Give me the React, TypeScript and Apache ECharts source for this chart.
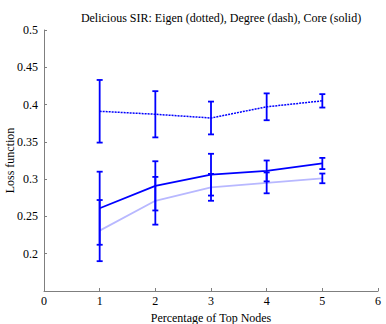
import React, { useEffect, useRef } from "react";
import * as echarts from "echarts";

const xValues = [1, 2, 3, 4, 5];
const eigenMean = [0.391, 0.387, 0.382, 0.397, 0.405];
const eigenErr = [0.042, 0.031, 0.022, 0.018, 0.009];
const coreMean = [0.261, 0.291, 0.306, 0.311, 0.321];
const coreErr = [0.049, 0.033, 0.028, 0.014, 0.0075];
const degreeMean = [0.231, 0.271, 0.289, 0.295, 0.301];
const degreeErr = [0.041, 0.032, 0.018, 0.014, 0.0065];

const titleText = "Delicious SIR: Eigen (dotted), Degree (dash), Core (solid)";
const xName = "Percentage of Top Nodes";
const yName = "Loss function";

const BLUE = "#0000ff";
const FAINT = "#b8b8ff";
const FONT = "Liberation Serif, Times New Roman, serif";

function errData(mean: number[], err: number[]) {
  return xValues.map((x, i) => [x, mean[i] - err[i], mean[i] + err[i]]);
}

function errorBarSeries(mean: number[], err: number[], z: number) {
  return {
    type: "custom",
    z,
    data: errData(mean, err),
    renderItem: (params: any, api: any) => {
      const x = api.value(0);
      const lo = api.coord([x, api.value(1)]);
      const hi = api.coord([x, api.value(2)]);
      const hw = 3;
      const style = { stroke: BLUE, lineWidth: 1.8 };
      return {
        type: "group",
        children: [
          { type: "line", shape: { x1: lo[0], y1: lo[1], x2: hi[0], y2: hi[1] }, style },
          { type: "line", shape: { x1: lo[0] - hw, y1: lo[1], x2: lo[0] + hw, y2: lo[1] }, style },
          { type: "line", shape: { x1: hi[0] - hw, y1: hi[1], x2: hi[0] + hw, y2: hi[1] }, style },
        ],
      };
    },
  };
}

export default function App() {
  const ref = useRef<HTMLDivElement>(null);
  useEffect(() => {
    if (!ref.current) return;
    const chart = echarts.init(ref.current, null, { renderer: "svg" });
    chart.setOption({
      animation: false,
      backgroundColor: "#ffffff",
      textStyle: { fontFamily: FONT },
      title: {
        text: titleText,
        left: 216,
        textAlign: "center",
        top: 7,
        textStyle: { fontFamily: FONT, fontSize: 12, fontWeight: "normal", color: "#000" },
      },
      grid: { left: 44, right: 8, top: 30, bottom: 33, outerBoundsMode: "none", containLabel: false },
      xAxis: {
        type: "value",
        min: 0,
        max: 6,
        interval: 1,
        name: xName,
        nameLocation: "middle",
        nameGap: 21,
        nameMoveOverlap: false,
        nameTextStyle: { fontFamily: FONT, fontSize: 12, color: "#000" },
        axisLine: { lineStyle: { color: "#7f7f7f", width: 1 } },
        axisTick: { inside: true, length: 3, lineStyle: { color: "#7f7f7f" } },
        axisLabel: { fontFamily: FONT, fontSize: 12, color: "#000", margin: 4 },
        splitLine: { show: false },
      },
      yAxis: {
        type: "value",
        min: 0.15,
        max: 0.5,
        interval: 0.05,
        name: yName,
        nameLocation: "middle",
        nameGap: 28,
        nameMoveOverlap: false,
        nameTextStyle: { fontFamily: FONT, fontSize: 12, color: "#000" },
        axisLine: { show: true, lineStyle: { color: "#7f7f7f", width: 1 } },
        axisTick: { show: true, inside: true, length: 3, lineStyle: { color: "#7f7f7f" } },
        axisLabel: {
          fontFamily: FONT,
          fontSize: 12,
          color: "#000",
          margin: 6,
          formatter: (v: number) => (v < 0.17 ? "" : String(+v.toFixed(2))),
        },
        splitLine: { show: false },
      },
      series: [
        {
          type: "line",
          data: xValues.map((x, i) => [x, degreeMean[i]]),
          showSymbol: false,
          symbol: "none",
          lineStyle: { color: FAINT, width: 1.8 },
          z: 1,
        },
        {
          type: "line",
          data: xValues.map((x, i) => [x, eigenMean[i]]),
          showSymbol: false,
          symbol: "none",
          lineStyle: { color: BLUE, width: 1.5, type: [2, 1] },
          z: 2,
        },
        {
          type: "line",
          data: xValues.map((x, i) => [x, coreMean[i]]),
          showSymbol: false,
          symbol: "none",
          lineStyle: { color: BLUE, width: 1.8 },
          z: 2,
        },
        errorBarSeries(degreeMean, degreeErr, 3),
        errorBarSeries(eigenMean, eigenErr, 3),
        errorBarSeries(coreMean, coreErr, 3),
      ],
    });
    return () => chart.dispose();
  }, []);
  return <div ref={ref} style={{ width: 386, height: 324, position: "absolute", left: 0, top: 0 }} />;
}
